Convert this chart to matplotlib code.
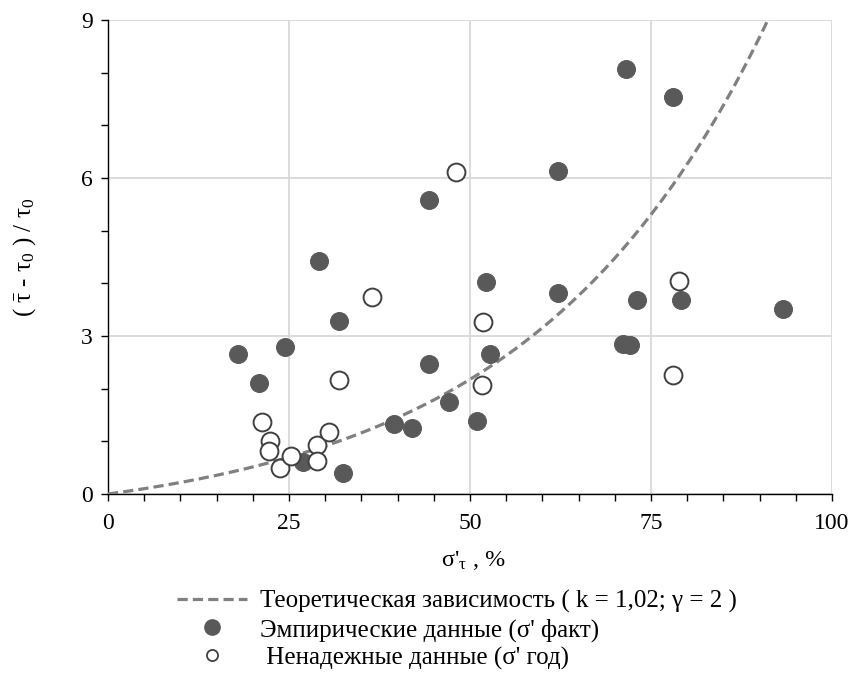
import numpy as np
import matplotlib
matplotlib.use("Agg")
import matplotlib.pyplot as plt
from matplotlib.ticker import MultipleLocator
from matplotlib.lines import Line2D

plt.rcParams['font.family'] = ['Liberation Serif', 'DejaVu Serif']
plt.rcParams['mathtext.fontset'] = 'custom'
plt.rcParams['mathtext.rm'] = 'Liberation Serif'
plt.rcParams['mathtext.it'] = 'Liberation Serif:italic'

# Empirical data (sigma' fact)
emp_x = [18.0, 20.9, 24.5, 27.0, 29.1, 31.9, 32.5, 39.5, 42.0, 44.3, 44.4, 47.1,
         51.0, 52.2, 52.8, 62.1, 62.2, 71.2, 72.1, 71.6, 73.1, 78.1, 79.2, 93.2]
emp_y = [2.66, 2.10, 2.79, 0.60, 4.42, 3.29, 0.40, 1.33, 1.25, 5.58, 2.47, 1.74,
         1.39, 4.03, 2.66, 6.13, 3.81, 2.85, 2.82, 8.07, 3.69, 7.54, 3.69, 3.52]

# Unreliable data (sigma' year)
unr_x = [21.3, 22.4, 22.2, 23.7, 25.3, 28.8, 28.9, 30.5, 31.9, 36.5, 48.1, 51.8,
         51.7, 78.0, 78.8]
unr_y = [1.36, 1.01, 0.82, 0.49, 0.72, 0.93, 0.63, 1.18, 2.17, 3.75, 6.12, 3.27,
         2.07, 2.26, 4.05]

labels = ['Теоретическая зависимость ( k = 1,02; γ = 2 )',
          'Эмпирические данные (σ\' факт)',
          ' Ненадежные данные (σ\' год)']

# Theoretical curve parameters (fitted to the drawn curve)
theo_A = 0.625
theo_b = 3.0

fig = plt.figure(figsize=(8.5, 6.78), dpi=100)
ax = fig.add_axes([108/850, 1-494/678, (832-108)/850, (494-20)/678])

xs = np.linspace(0, 100, 400)
ys = theo_A * (np.exp(theo_b * xs / 100.0) - 1)
line, = ax.plot(xs, ys, linestyle=(0, (3.2, 1.6)), color='#808080', lw=2.3, zorder=3)

ax.scatter(emp_x, emp_y, s=165, color='#595959', edgecolors='#595959', linewidths=0.8, zorder=4)
ax.scatter(unr_x, unr_y, s=165, facecolors='white', edgecolors='#404040', linewidths=1.4, zorder=5)

h_emp = Line2D([], [], ls='none', marker='o', markersize=11, markerfacecolor='#595959',
               markeredgecolor='#595959')
h_unr = Line2D([], [], ls='none', marker='o', markersize=8, markerfacecolor='white',
               markeredgecolor='#404040', markeredgewidth=1.3)

ax.set_xlim(0, 100)
ax.set_ylim(0, 9)
ax.xaxis.set_major_locator(MultipleLocator(25))
ax.xaxis.set_minor_locator(MultipleLocator(5))
ax.yaxis.set_major_locator(MultipleLocator(3))
ax.yaxis.set_minor_locator(MultipleLocator(1))
ax.grid(True, which='major', color='#d9d9d9', lw=1.3, zorder=0)
ax.set_axisbelow(True)
for sp in ['top', 'right']:
    ax.spines[sp].set_visible(False)
for sp in ['left', 'bottom']:
    ax.spines[sp].set_color('black')
    ax.spines[sp].set_linewidth(1.0)
ax.tick_params(which='both', direction='out', length=5, width=1.0, labelsize=17)
ax.tick_params(axis='x', pad=9)
ax.tick_params(axis='y', pad=6)

ax.set_xlabel("σ'$_\\mathrm{τ}$ , %", fontsize=17.5)
ax.xaxis.set_label_coords(0.5 + 3 / 724, (494 - 549) / 474)
ax.set_ylabel(r"( $\bar{\mathrm{τ}}$ - $\mathrm{τ}_0$ ) / $\mathrm{τ}_0$", fontsize=18)
ax.yaxis.set_label_coords((38 - 108) / 724, 0.5)

leg = fig.legend(handles=[line, h_emp, h_unr], labels=labels, loc='upper left',
                 bbox_to_anchor=(177/850, 1-590/678),
                 frameon=False, fontsize=18, handlelength=2.8, handletextpad=0.5,
                 labelspacing=0.2, borderaxespad=0, borderpad=0)

fig.savefig('out.png', dpi=100)
